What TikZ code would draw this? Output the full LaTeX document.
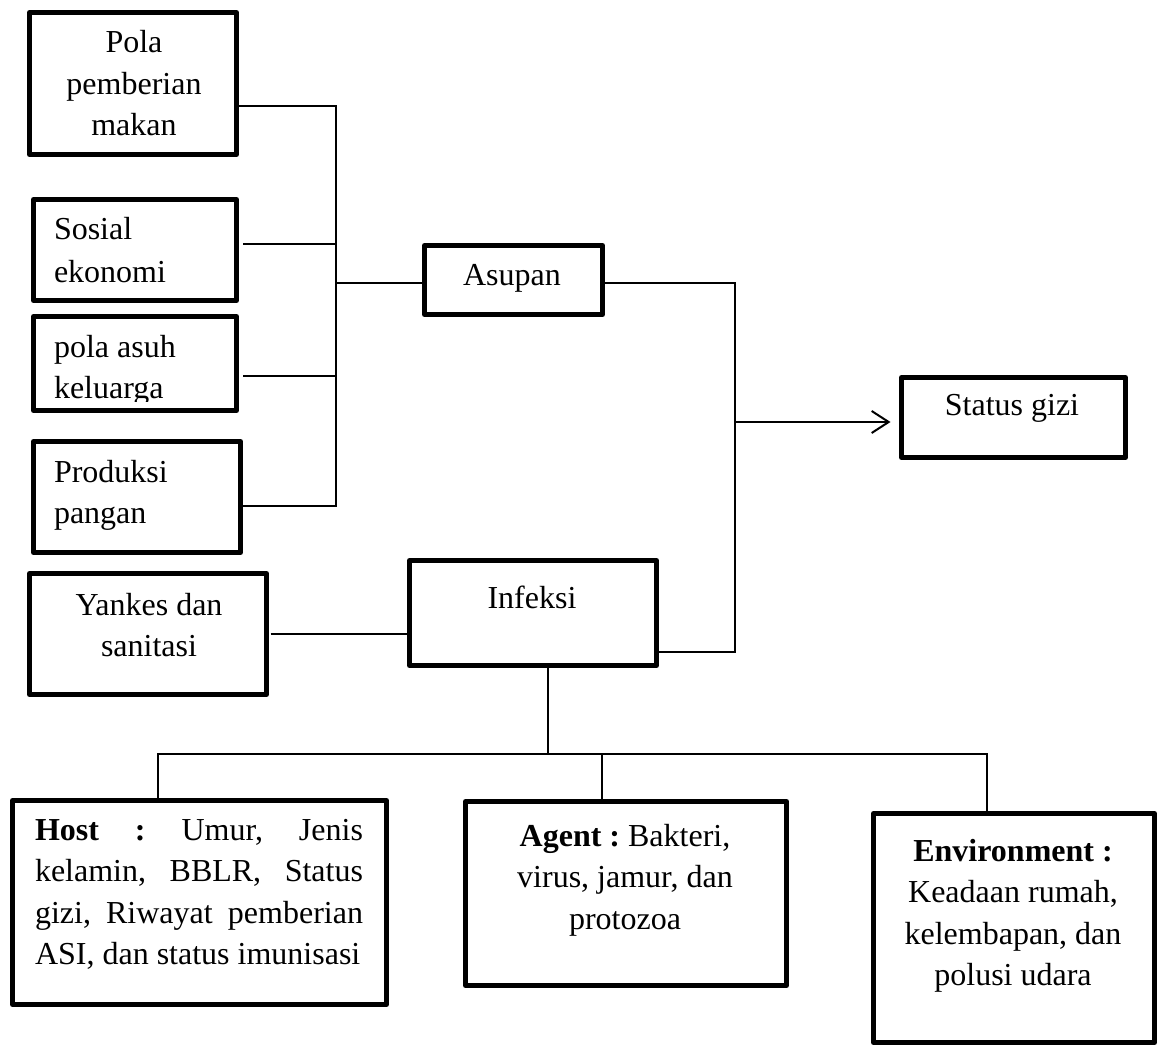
\documentclass[tikz,border=0pt]{standalone}
\usepackage{fontspec}
\setmainfont{Liberation Serif}
\usetikzlibrary{arrows.meta,calc}
\frenchspacing
\begin{document}
\frenchspacing
\begin{tikzpicture}[x=1pt,y=-1pt,
  box/.style={draw=black,line width=5pt,line join=round,inner sep=0pt,outer sep=0pt},
  conn/.style={draw=black,line width=2pt},
  arr/.style={conn,-{Straight Barb[length=17pt,width=22pt,line width=2pt]}},
  txt/.style={inner sep=0pt,outer sep=0pt,font=\fontsize{32}{41.5}\selectfont\frenchspacing}]
\useasboundingbox (0,0) rectangle (1159,1046);

% boxes
\node[box,minimum width=207pt,minimum height=142pt] (pola) at (133,83.5) {};
\node[box,minimum width=203pt,minimum height=101pt] (sosial) at (135,250) {};
\node[box,minimum width=203pt,minimum height=94pt] (asuh) at (135,363.5) {};
\node[box,minimum width=207pt,minimum height=111pt] (produksi) at (137,497) {};
\node[box,minimum width=237pt,minimum height=121pt] (yankes) at (148,634) {};
\node[box,minimum width=178pt,minimum height=69pt] (asupan) at (513.5,280) {};
\node[box,minimum width=247pt,minimum height=105pt] (infeksi) at (533,613) {};
\node[box,minimum width=224pt,minimum height=80pt] (status) at (1013.5,417.5) {};
\node[box,minimum width=374pt,minimum height=204pt] (host) at (199.5,902.5) {};
\node[box,minimum width=321pt,minimum height=184pt] (agent) at (626,893.5) {};
\node[box,minimum width=281pt,minimum height=229pt] (env) at (1014,928) {};

% texts
\node[txt,anchor=base] (polaT) at (134,53) {\begin{tabular}[t]{@{}c@{}}Pola\\pemberian\\makan\end{tabular}};
\node[txt,anchor=base west] (sosialT) at (54,239) {\begin{tabular}[t]{@{}l@{}}Sosial\\[1.5pt]ekonomi\end{tabular}};
\begin{scope}
  \clip (0,300) rectangle (300,401);
  \node[txt,anchor=base west] (asuhT) at (54,357) {\begin{tabular}[t]{@{}l@{}}pola asuh\\keluarga\end{tabular}};
\end{scope}
\node[txt,anchor=base west] (produksiT) at (54,482) {\begin{tabular}[t]{@{}l@{}}Produksi\\pangan\end{tabular}};
\node[txt,anchor=base] (yankesT) at (149,615) {\begin{tabular}[t]{@{}c@{}}Yankes dan\\sanitasi\end{tabular}};
\node[txt,anchor=base] (asupanT) at (512,285) {Asupan};
\node[txt,anchor=base] (infeksiT) at (532,608) {Infeksi};
\node[txt,anchor=base] (statusT) at (1012,415) {Status gizi};
\node[txt,anchor=base west] (hostT) at (35,840) {\begin{tabular}[t]{@{}l@{}}%
\makebox[328pt][s]{\textbf{Host} \textbf{:} Umur, Jenis}\\
\makebox[328pt][s]{kelamin, BBLR, Status}\\
\makebox[328pt][s]{gizi, Riwayat pemberian}\\
ASI, dan status imunisasi\end{tabular}};
\node[txt,anchor=base] (agentT) at (625,846) {\begin{tabular}[t]{@{}c@{}}\textbf{Agent :} Bakteri,\\virus, jamur, dan\\protozoa\end{tabular}};
\node[txt,anchor=base] (envT) at (1013,861) {\begin{tabular}[t]{@{}c@{}}\textbf{Environment :}\\Keadaan rumah,\\kelembapan, dan\\polusi udara\end{tabular}};

% junction coordinates
\coordinate (jTop) at (336,106);
\coordinate (jS) at (336,244);
\coordinate (jA) at (336,283);
\coordinate (jK) at (336,376);
\coordinate (jBot) at (336,506);
\coordinate (rTop) at (735,283);
\coordinate (rMid) at (735,422);
\coordinate (rBot) at (735,652);
\coordinate (bDown) at (548,754);
\coordinate (bHost) at (158,754);
\coordinate (bAgent) at (602,754);
\coordinate (bEnv) at (987,754);

% connectors
\draw[conn] (pola.east |- jTop) -- (jTop) -- (jBot) -- ([xshift=2pt]produksi.east |- jBot);
\draw[conn] ([xshift=6.5pt]sosial.east |- jS) -- (jS);
\draw[conn] ([xshift=6.5pt]asuh.east |- jK) -- (jK);
\draw[conn] (jA) -- (asupan.west |- jA);
\draw[conn] (asupan.east |- rTop) -- (rTop) -- (rBot) -- (infeksi.east |- rBot);
\draw[arr] (rMid) -- ([xshift=-11pt]status.west |- rMid);
\draw[conn] ([xshift=4pt]yankes.east) -- (infeksi.west |- yankes.east);
\draw[conn] (infeksi.south -| bDown) -- (bDown);
\draw[conn] (bHost |- host.north) -- (bHost) -- (bEnv) -- (bEnv |- env.north);
\draw[conn] (bAgent) -- (bAgent |- agent.north);
\end{tikzpicture}
\end{document}
